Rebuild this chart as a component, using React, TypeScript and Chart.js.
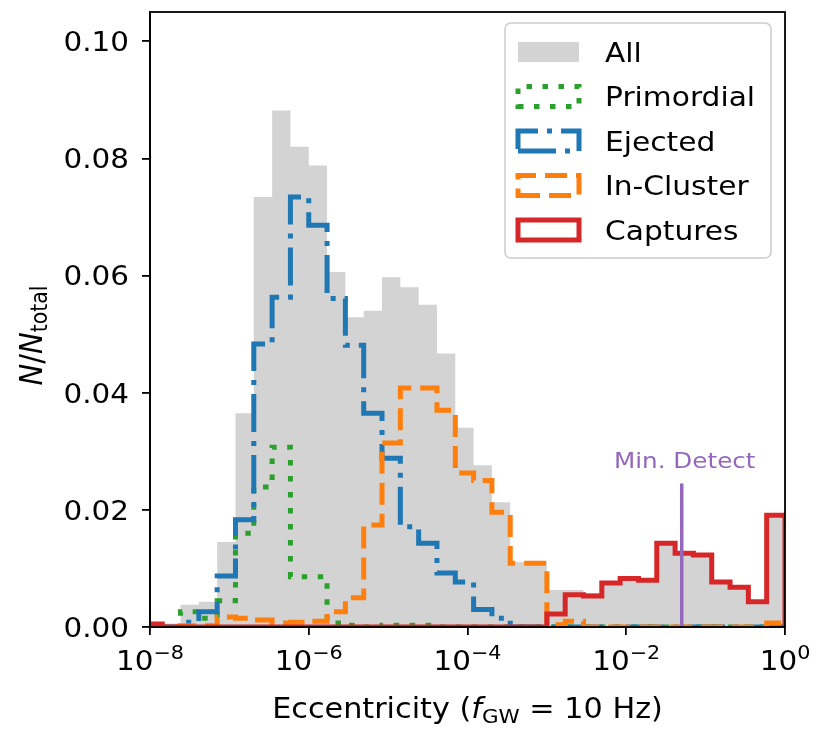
import React, { useEffect, useRef } from 'react';
import { Chart, registerables } from 'chart.js';

Chart.register(...registerables);

// ---- binning (log10 of eccentricity) ----
const N_BINS = 35;
const LOG_E_MIN = -8.0769; // left edge of first bin
const LOG_E_MAX = 0; // right edge of last bin

// ---- series values (fraction per bin, N/N_total) ----
const ALL = [
  0.0005, 0.0006, 0.0038, 0.0043, 0.0145, 0.0365, 0.0734, 0.0882, 0.082, 0.0788,
  0.0606, 0.0529, 0.054, 0.0597, 0.058, 0.055, 0.0467, 0.034, 0.0276, 0.0213,
  0.0111, 0.0111, 0.0063, 0.0063, 0.0058, 0.0078, 0.0085, 0.0082, 0.0143, 0.0128,
  0.0124, 0.0078, 0.007, 0.0045, 0.0192,
];
const PRIMORDIAL = [
  0, 0, 0.0026, 0.0015, 0.0045, 0.016, 0.0239, 0.0307, 0.0086, 0.0086,
  0.0007, 0.0003, 0, 0.0003, 0.0003, 0.0003, 0, 0, 0, 0,
  0, 0, 0, 0, 0, 0, 0, 0, 0, 0,
  0, 0, 0, 0, 0,
];
const EJECTED = [
  0, 0, 0.0008, 0.0026, 0.0087, 0.0183, 0.0483, 0.0563, 0.0734, 0.0686,
  0.0561, 0.0481, 0.0365, 0.0288, 0.0171, 0.0143, 0.0092, 0.0077, 0.003, 0.0015,
  0, 0, 0, 0, 0, 0, 0, 0, 0, 0,
  0, 0, 0, 0, 0,
];
const IN_CLUSTER = [
  0, 0, 0.0002, 0.0002, 0.0017, 0.0015, 0.0012, 0.0007, 0.0008, 0.001,
  0.0026, 0.005, 0.0174, 0.0314, 0.0408, 0.0408, 0.037, 0.0263, 0.025, 0.0196,
  0.0109, 0.0109, 0.0004, 0.001, 0, 0, 0, 0, 0, 0,
  0, 0, 0, 0, 0.0007,
];
const CAPTURES = [
  0.0005, 0, 0, 0, 0, 0, 0, 0, 0, 0,
  0, 0, 0, 0, 0, 0, 0, 0, 0, 0,
  0, 0, 0.0022, 0.0055, 0.0053, 0.0075, 0.0083, 0.008, 0.0143, 0.0126,
  0.0123, 0.0077, 0.0068, 0.0043, 0.0191,
];

const MIN_DETECT_E = 0.05;
const MIN_DETECT_TOP = 0.0245;
const MIN_DETECT_LABEL = 'Min. Detect';

const X_TICK_EXPONENTS = [-8, -6, -4, -2, 0];
const Y_TICKS = [0, 0.02, 0.04, 0.06, 0.08, 0.1];
const Y_MAX = 0.105;

const FONT = 'DejaVu Sans';
const C_ALL = '#d3d3d3';
const C_PRIM = '#2ca02c';
const C_EJ = '#1f77b4';
const C_IN = '#ff7f0e';
const C_CAP = '#d62728';
const C_DET = '#9467bd';

const LW = 5;
const DASH_PRIM = [5.5, 10.5];
const DASH_EJ = [38, 9, 5, 9];
const DASH_IN = [22, 9];

// horizontal text stretch seen in the reference
const SX = 1.12;

const EDGES = Array.from({ length: N_BINS + 1 }, (_, i) =>
  Math.pow(10, LOG_E_MIN + (i * (LOG_E_MAX - LOG_E_MIN)) / N_BINS)
);

function stepPoints(values: number[]) {
  const pts = [{ x: EDGES[0], y: 0 }];
  values.forEach((v, i) => pts.push({ x: EDGES[i], y: v }));
  pts.push({ x: EDGES[N_BINS], y: 0 });
  return pts;
}

const SUP: Record<string, string> = { '-': '\u2212' };

type Seg = { text: string; size: number; italic?: boolean; dy?: number };

function drawSegs(
  ctx: CanvasRenderingContext2D,
  segs: Seg[],
  x: number,
  y: number,
  align: 'left' | 'center' | 'right',
  opts: { sx?: number; rotate?: boolean } = {}
) {
  const sx = opts.sx ?? SX;
  const fonts = segs.map((s) => `${s.italic ? 'italic ' : ''}${s.size}px "${FONT}"`);
  let total = 0;
  ctx.textAlign = 'left';
  ctx.textBaseline = 'alphabetic';
  const widths = segs.map((s, i) => {
    ctx.font = fonts[i];
    const w = ctx.measureText(s.text).width;
    total += w;
    return w;
  });
  ctx.save();
  ctx.translate(x, y);
  if (opts.rotate) {
    ctx.rotate(-Math.PI / 2);
    ctx.scale(1, sx);
  } else {
    ctx.scale(sx, 1);
  }
  let cx = align === 'center' ? -total / 2 : align === 'right' ? -total : 0;
  segs.forEach((s, i) => {
    ctx.font = fonts[i];
    ctx.fillText(s.text, cx, s.dy || 0);
    cx += widths[i];
  });
  ctx.restore();
}

const LEGEND_ITEMS = [
  { label: 'All', color: C_ALL, fill: true, dash: [] as number[] },
  { label: 'Primordial', color: C_PRIM, fill: false, dash: DASH_PRIM },
  { label: 'Ejected', color: C_EJ, fill: false, dash: DASH_EJ },
  { label: 'In-Cluster', color: C_IN, fill: false, dash: DASH_IN },
  { label: 'Captures', color: C_CAP, fill: false, dash: [] as number[] },
];

const overlayPlugin = {
  id: 'overlay',
  afterDraw(chart: any) {
    const ctx: CanvasRenderingContext2D = chart.ctx;
    const { left, right, top, bottom } = chart.chartArea;
    const xs = chart.scales.x;
    const ys = chart.scales.y;
    ctx.save();

    // spines
    ctx.strokeStyle = '#000';
    ctx.lineWidth = 1.8;
    ctx.setLineDash([]);
    ctx.strokeRect(left, top, right - left, bottom - top);

    // Min. Detect label
    ctx.fillStyle = C_DET;
    drawSegs(ctx, [{ text: MIN_DETECT_LABEL, size: 22 }],
      xs.getPixelForValue(MIN_DETECT_E) + 3, ys.getPixelForValue(MIN_DETECT_TOP) - 16, 'center');

    // legend
    const bx = right - 280;
    const by = top + 11;
    const bw = 266;
    const bh = 235;
    ctx.beginPath();
    ctx.roundRect(bx, by, bw, bh, 6);
    ctx.fillStyle = 'rgba(255,255,255,0.8)';
    ctx.fill();
    ctx.strokeStyle = '#cccccc';
    ctx.lineWidth = 1.5;
    ctx.stroke();
    LEGEND_ITEMS.forEach((it, i) => {
      const cy = by + 29 + i * 44.5;
      const hx = bx + 13;
      const hw = 61;
      const hh = 20;
      if (it.fill) {
        ctx.fillStyle = it.color;
        ctx.fillRect(hx, cy - hh / 2, hw, hh);
      } else {
        ctx.beginPath();
        ctx.moveTo(hx, cy + hh / 2);
        ctx.lineTo(hx + hw, cy + hh / 2);
        ctx.lineTo(hx + hw, cy - hh / 2);
        ctx.lineTo(hx, cy - hh / 2);
        ctx.closePath();
        ctx.strokeStyle = it.color;
        ctx.lineWidth = LW;
        ctx.lineJoin = 'miter';
        ctx.setLineDash(it.dash);
        ctx.stroke();
        ctx.setLineDash([]);
      }
      ctx.fillStyle = '#000';
      drawSegs(ctx, [{ text: it.label, size: 26.5 }], bx + 100, cy + 9.6, 'left');
    });

    ctx.fillStyle = '#000';
    // y tick labels
    Y_TICKS.forEach((v) => {
      const py = ys.getPixelForValue(v);
      drawSegs(ctx, [{ text: v.toFixed(2), size: 27 }], left - 21, py + 9.8, 'right', { sx: 1.09 });
    });

    // x tick labels 10^k
    X_TICK_EXPONENTS.forEach((e) => {
      const px = xs.getPixelForValue(Math.pow(10, e));
      const exp = String(e).split('').map((c) => SUP[c] || c).join('');
      drawSegs(ctx, [
        { text: '10', size: 27 },
        { text: exp, size: 19, dy: -11 },
      ], px, bottom + 43, 'center', { sx: 1.09 });
    });

    // x title
    drawSegs(ctx, [
      { text: 'Eccentricity (', size: 27.5 },
      { text: 'f', size: 27.5, italic: true },
      { text: 'GW', size: 19.5, dy: 5 },
      { text: ' = 10 Hz)', size: 27.5 },
    ], (left + right) / 2, bottom + 91, 'center', { sx: 1.1 });

    // y title (rotated)
    drawSegs(ctx, [
      { text: 'N', size: 29, italic: true },
      { text: '/', size: 29 },
      { text: 'N', size: 29, italic: true },
      { text: 'total', size: 20.5, dy: 5 },
    ], 42, (top + bottom) / 2 + 16, 'center', { rotate: true, sx: 1.08 });

    ctx.restore();
  },
};

export default function App() {
  const ref = useRef<HTMLCanvasElement | null>(null);
  useEffect(() => {
    if (!ref.current) return;
    const common = { stepped: 'before' as const, pointRadius: 0, clip: 0, fill: false, borderWidth: LW };
    const gridOpts = { display: true, drawOnChartArea: false, drawTicks: true, tickLength: 8, color: '#000', lineWidth: 1.8 };
    const chart = new Chart(ref.current, {
      type: 'line',
      data: {
        datasets: [
          { ...common, label: 'All', data: stepPoints(ALL), fill: 'origin', backgroundColor: C_ALL, borderColor: 'rgba(0,0,0,0)', borderWidth: 0, order: 6 },
          { ...common, label: 'Primordial', data: stepPoints(PRIMORDIAL), borderColor: C_PRIM, borderDash: DASH_PRIM, order: 5 },
          { ...common, label: 'Ejected', data: stepPoints(EJECTED), borderColor: C_EJ, borderDash: DASH_EJ, order: 4 },
          { ...common, label: 'In-Cluster', data: stepPoints(IN_CLUSTER), borderColor: C_IN, borderDash: DASH_IN, order: 3 },
          { ...common, label: 'Captures', data: stepPoints(CAPTURES), borderColor: C_CAP, order: 2 },
          { label: 'Min. Detect', data: [{ x: MIN_DETECT_E, y: 0 }, { x: MIN_DETECT_E, y: MIN_DETECT_TOP }], borderColor: C_DET, borderWidth: 3.5, pointRadius: 0, clip: 0, fill: false, order: 1 },
        ] as any,
      },
      options: {
        animation: false,
        responsive: false,
        maintainAspectRatio: false,
        layout: { padding: { left: 0, right: 31, top: 12, bottom: 0 } },
        plugins: { legend: { display: false }, tooltip: { enabled: false } },
        scales: {
          x: {
            type: 'logarithmic',
            min: Math.pow(10, X_TICK_EXPONENTS[0]),
            max: Math.pow(10, X_TICK_EXPONENTS[X_TICK_EXPONENTS.length - 1]),
            afterBuildTicks: (s: any) => {
              s.ticks = X_TICK_EXPONENTS.map((e) => ({ value: Math.pow(10, e) }));
            },
            ticks: { display: false },
            grid: gridOpts,
            border: { display: true, color: '#000', width: 1.8 },
            afterFit: (s: any) => {
              s.height = 103;
              s.paddingLeft = 0;
              s.paddingRight = 0;
            },
          },
          y: {
            type: 'linear',
            min: 0,
            max: Y_MAX,
            afterBuildTicks: (s: any) => {
              s.ticks = Y_TICKS.map((v) => ({ value: v }));
            },
            ticks: { display: false },
            grid: gridOpts,
            border: { display: true, color: '#000', width: 1.8 },
            afterFit: (s: any) => {
              s.width = 150;
              s.paddingTop = 0;
              s.paddingBottom = 0;
            },
          },
        },
      } as any,
      plugins: [overlayPlugin],
    });
    return () => chart.destroy();
  }, []);
  return (
    <div style={{ position: 'absolute', left: 0, top: 0, width: 816, height: 730, background: '#fff' }}>
      <canvas ref={ref} width={816} height={730} style={{ display: 'block', width: 816, height: 730 }} />
    </div>
  );
}
